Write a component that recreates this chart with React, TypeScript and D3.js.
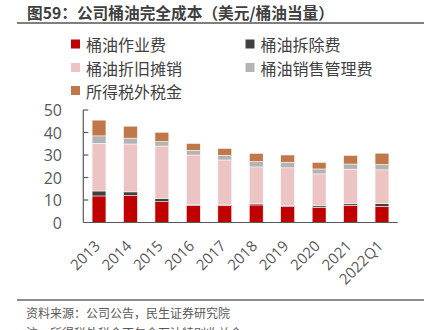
import React from "react";
import * as d3 from "d3";

const categories = ["2013", "2014", "2015", "2016", "2017", "2018", "2019", "2020", "2021", "2022Q1"];
const operating = [11.8, 12.0, 9.3, 7.6, 7.6, 7.8, 7.1, 6.7, 7.6, 7.2];
const abandonment = [2.2, 1.6, 1.4, 0.4, 0.2, 0.5, 0.5, 0.7, 0.7, 1.2];
const depreciation = [21.2, 21.3, 23.3, 22.0, 20.0, 16.4, 16.7, 14.2, 15.4, 15.0];
const sga = [3.3, 2.6, 2.0, 2.1, 2.1, 2.4, 2.5, 2.2, 2.3, 2.4];
const otherTaxes = [7.0, 5.3, 4.1, 3.0, 3.0, 3.6, 3.2, 2.9, 3.8, 5.0];
const seriesNames = ["桶油作业费", "桶油拆除费", "桶油折旧摊销", "桶油销售管理费", "所得税外税金"];
const seriesColors = ["#C00000", "#404040", "#EDC4C4", "#B3B3B3", "#C0784A"];
const yTicks = [0, 10, 20, 30, 40, 50];

const FONT = "'Noto Sans CJK SC', 'Noto Sans', sans-serif";
const NUM_FONT = "'Open Sans', 'Noto Sans', sans-serif";

export default function App() {
  const W = 434;
  const H = 330;
  const left = 83.3;
  const right = 397.7;
  const base = 222.5;
  const top = 110;

  const x = d3.scaleBand<string>().domain(categories).range([left, right]).paddingInner(0.56).paddingOuter(0.28);
  const y = d3.scaleLinear().domain([0, 50]).range([base, top]);

  const table = categories.map((c, i) => ({
    cat: c,
    s0: operating[i],
    s1: abandonment[i],
    s2: depreciation[i],
    s3: sga[i],
    s4: otherTaxes[i],
  }));
  const stack = d3.stack<any>().keys(["s0", "s1", "s2", "s3", "s4"])(table);

  const legendItems = [
    { name: seriesNames[0], color: seriesColors[0], x: 71, y: 44 },
    { name: seriesNames[1], color: seriesColors[1], x: 245.5, y: 44 },
    { name: seriesNames[2], color: seriesColors[2], x: 71, y: 67.5 },
    { name: seriesNames[3], color: seriesColors[3], x: 245.5, y: 67.5 },
    { name: seriesNames[4], color: seriesColors[4], x: 71, y: 90.5 },
  ];

  return (
    <svg width={W} height={H} style={{ position: "absolute", left: 0, top: 0, background: "#fff", fontFamily: FONT }} fontFamily={FONT}>
      <rect x={0} y={0} width={W} height={H} fill="#fff" />
      <text x={27} y={19} fontSize={15.7} fontWeight="bold" fill="#404040" fontFamily={FONT}>
        图59：公司桶油完全成本（美元/桶油当量）
      </text>
      <line x1={17} x2={424} y1={23} y2={23} stroke="#555" strokeWidth={1.5} />

      {legendItems.map((d, i) => (
        <g key={i}>
          <rect x={d.x} y={d.y - 4.5} width={9} height={9} fill={d.color} />
          <text x={d.x + 15} y={d.y} fontSize={16} fill="#404040" dominantBaseline="central" fontFamily={FONT}>
            {d.name}
          </text>
        </g>
      ))}

      {stack.map((layer, li) => (
        <g key={li} fill={seriesColors[li]}>
          {layer.map((seg, ci) => (
            <rect
              key={ci}
              x={x(categories[ci])}
              width={x.bandwidth()}
              y={y(seg[1])}
              height={Math.max(0, y(seg[0]) - y(seg[1]))}
              stroke="#fff"
              strokeWidth={0.5}
            />
          ))}
        </g>
      ))}

      <line x1={left} x2={left} y1={top} y2={base} stroke="#595959" strokeWidth={1.2} />
      <line x1={left} x2={right} y1={base} y2={base} stroke="#595959" strokeWidth={1.2} />
      {yTicks.map((t) => (
        <g key={t}>
          {t > 0 && <line x1={left} x2={left + 5} y1={y(t)} y2={y(t)} stroke="#595959" strokeWidth={1.2} />}
          <text x={62} y={y(t)} fontSize={16} fill="#595959" textAnchor="end" dominantBaseline="central" fontFamily={NUM_FONT}>
            {t}
          </text>
        </g>
      ))}

      {categories.map((c) => (
        <text
          key={c}
          transform={`translate(${(x(c) as number) + x.bandwidth() / 2 + 2},${247}) rotate(-45)`}
          fontSize={15}
          fill="#595959"
          textAnchor="end"
          fontFamily={NUM_FONT}
        >
          {c}
        </text>
      ))}

      <line x1={17} x2={424} y1={300} y2={300} stroke="#666" strokeWidth={1.5} />
      <text x={26} y={318} fontSize={12} fill="#595959" fontFamily={FONT}>
        资料来源：公司公告，民生证券研究院
      </text>
      <text x={26} y={338} fontSize={12} fill="#595959" fontFamily={FONT}>
        注：所得税外税金不包含石油特别收益金
      </text>
    </svg>
  );
}
